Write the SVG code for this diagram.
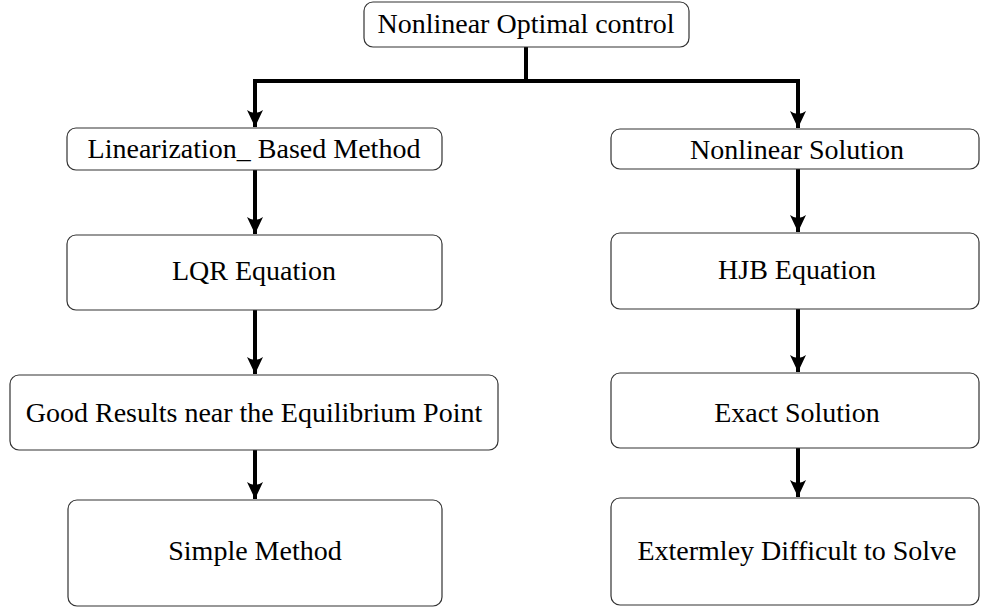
<svg xmlns="http://www.w3.org/2000/svg" width="981" height="608" viewBox="0 0 981 608">
<style>
.box{fill:#fff;stroke:#333;stroke-width:1.2}
.lbl{font-family:"Liberation Serif","Times New Roman",serif;font-size:28px;fill:#000;text-anchor:middle}
.con{fill:none;stroke:#000;stroke-width:4}
</style>
<defs>
<marker id="ah" markerUnits="userSpaceOnUse" markerWidth="20" markerHeight="18" viewBox="-19 -9 20 18" refX="0" refY="0" orient="auto">
<path d="M0,0 L-17,-8 Q-11,0 -17,8 Z" fill="#000"/>
</marker>
</defs>
<g id="connectors">
<path class="con" d="M526,47 V81"/>
<path class="con" d="M253,81 H800"/>
<path class="con" d="M255,81 V127" marker-end="url(#ah)"/>
<path class="con" d="M798,81 V128" marker-end="url(#ah)"/>
<path class="con" d="M255,170 V234" marker-end="url(#ah)"/>
<path class="con" d="M798,169 V232" marker-end="url(#ah)"/>
<path class="con" d="M255,310 V374" marker-end="url(#ah)"/>
<path class="con" d="M798,309 V372" marker-end="url(#ah)"/>
<path class="con" d="M255,450 V499" marker-end="url(#ah)"/>
<path class="con" d="M798,448 V497" marker-end="url(#ah)"/>
</g>
<g id="n-top">
<rect class="box" x="364" y="2" width="325" height="45" rx="9"/>
<text class="lbl" x="526" y="33">Nonlinear Optimal control</text>
</g>
<g id="n-lin">
<rect class="box" x="67" y="128" width="375" height="42" rx="9"/>
<text class="lbl" x="254" y="158">Linearization_ Based Method</text>
</g>
<g id="n-nls">
<rect class="box" x="611" y="129" width="368" height="40" rx="9"/>
<text class="lbl" x="797" y="159">Nonlinear Solution</text>
</g>
<g id="n-lqr">
<rect class="box" x="67" y="235" width="375" height="75" rx="9"/>
<text class="lbl" x="254" y="280">LQR Equation</text>
</g>
<g id="n-hjb">
<rect class="box" x="611" y="233" width="368" height="76" rx="9"/>
<text class="lbl" x="797" y="279">HJB Equation</text>
</g>
<g id="n-good">
<rect class="box" x="10" y="375" width="488" height="75" rx="9"/>
<text class="lbl" x="254" y="422">Good Results near the Equilibrium Point</text>
</g>
<g id="n-exact">
<rect class="box" x="611" y="373" width="368" height="75" rx="9"/>
<text class="lbl" x="797" y="422">Exact Solution</text>
</g>
<g id="n-simple">
<rect class="box" x="68" y="500" width="374" height="106" rx="9"/>
<text class="lbl" x="255" y="560">Simple Method</text>
</g>
<g id="n-ext">
<rect class="box" x="611" y="498" width="368" height="107" rx="9"/>
<text class="lbl" x="797" y="560">Extermley Difficult to Solve</text>
</g>
</svg>
